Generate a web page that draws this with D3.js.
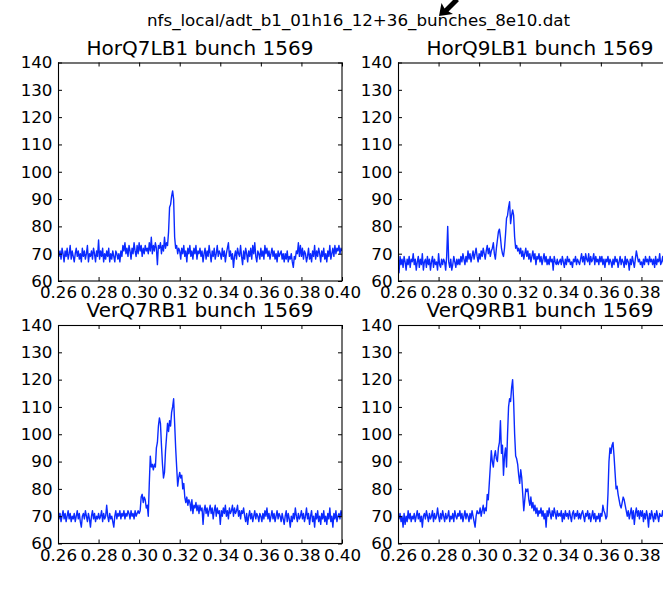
<!DOCTYPE html>
<html>
<head>
<meta charset="utf-8">
<script src="https://cdn.jsdelivr.net/npm/d3@7"></script>
<style>
  html, body { margin: 0; padding: 0; background: #fff; overflow: hidden; }
  svg { display: block; font-family: "DejaVu Sans", sans-serif; }
</style>
</head>
<body>
<svg id="fig" width="663" height="597"></svg>
<script>
// ---- data -------------------------------------------------------------
const fileName = "nfs_local/adt_b1_01h16_12+36_bunches_8e10.dat";
const panelTitles = ["HorQ7LB1 bunch 1569", "HorQ9LB1 bunch 1569",
                     "VerQ7RB1 bunch 1569", "VerQ9RB1 bunch 1569"];
const xTicks = [0.26, 0.28, 0.30, 0.32, 0.34, 0.36, 0.38, 0.40];
const yTicks = [60, 70, 80, 90, 100, 110, 120, 130, 140];

// tune axis: spectra sampled on a regular grid starting at freqStart
const freqStart = 0.26;
const freqStep = 0.0005;

const horQ7LB1 = [
  72,69,71,68,72,70,67,71,69,72,68,70,73,68,71,69,67,70,72,69,
  71,68,70,67,72,69,71,68,70,73,67,70,69,71,68,72,70,67,71,69,
  75,68,71,69,72,67,70,68,71,69,72,67,70,68,71,69,67,71,70,68,
  70,67,71,69,73,71,74,70,72,69,73,71,68,72,70,74,71,69,73,70,
  74,71,73,69,72,70,73,71,72,70,74,71,76,70,73,71,74,72,66,73,
  72,74,70,73,71,76,72,74,73,78,87,88,91,93,90,76,72,73,70,72,
  71,68,72,70,73,69,71,67,72,70,73,69,71,68,72,70,73,68,71,70,
  72,69,71,67,70,72,68,71,69,73,70,67,71,69,72,68,70,73,69,71,
  70,68,72,69,71,67,70,72,74,69,71,68,70,65,69,71,68,72,70,69,
  73,69,66,71,68,72,70,67,71,69,72,68,73,70,74,69,67,71,70,68,
  72,69,71,68,73,70,72,69,71,68,70,72,69,71,68,70,67,71,69,70,
  71,68,70,67,70,68,71,67,69,68,70,67,65,69,68,71,70,74,69,73,
  69,72,68,71,70,67,69,72,68,70,67,71,69,73,68,71,69,72,70,67,
  71,69,72,68,70,67,71,69,73,68,70,72,69,73,70,72,71,73,70,72,
  71
];

const horQ9LB1 = [
  70,63,69,66,68,65,69,67,64,68,66,69,65,68,67,70,66,68,64,67,
  69,65,68,66,70,64,67,68,65,69,66,68,64,67,69,65,68,66,67,64,
  70,66,65,68,66,68,67,64,69,80,67,65,68,64,66,69,67,65,68,66,
  68,66,69,67,70,68,66,69,67,71,68,70,67,69,71,68,70,72,69,67,
  70,68,71,69,72,70,68,71,73,70,72,69,71,72,74,70,68,72,75,78,
  79,76,72,70,69,72,77,83,84,87,89,81,84,86,84,76,72,73,71,72,
  70,72,69,71,68,70,72,69,71,68,70,67,69,71,68,70,66,69,68,70,
  67,69,66,68,70,67,69,66,68,66,69,67,68,64,69,67,66,68,66,67,
  68,66,69,67,65,68,66,69,67,68,66,67,65,68,67,69,66,68,67,66,
  68,70,67,69,66,70,68,67,70,66,69,67,68,70,66,69,67,68,66,69,
  67,69,66,68,65,68,67,69,66,68,67,65,68,66,69,67,68,65,67,69,
  66,68,67,65,69,66,68,67,64,68,66,69,67,65,68,71,69,67,68,66,
  67,65,68,66,69,67,68,66,69,67,68,66,68,65,69,66,68,67,70,66,
  67,69,66,68,67,65,68,66,69,67,68,66,67,69,66,68,67,65,68,67,
  67
];

const verQ7RB1 = [
  73,69,71,68,70,72,69,71,68,70,72,69,71,68,70,69,71,68,70,72,
  69,71,68,66,70,71,69,72,70,68,71,69,66,70,72,69,71,68,70,69,
  71,69,70,72,68,71,69,70,74,70,68,71,69,70,68,66,70,72,69,71,
  70,72,69,71,70,72,69,71,70,72,71,69,72,70,71,69,72,70,71,72,
  71,72,77,78,75,77,76,73,74,70,82,92,88,89,87,89,88,95,97,103,
  106,104,96,89,84,86,94,99,104,101,105,103,108,110,113,104,95,88,81,84,
  86,84,85,80,82,77,75,77,74,76,75,72,76,71,74,73,75,72,74,71,
  74,72,73,67,72,74,71,73,70,72,74,71,73,69,72,74,70,73,71,72,
  67,72,70,73,71,74,70,72,69,73,71,72,74,70,73,71,72,74,70,72,
  69,72,71,73,70,68,71,67,70,72,69,71,68,70,72,69,71,70,68,71,
  70,68,71,69,72,70,73,69,71,68,70,72,69,71,68,70,72,69,71,70,
  68,71,69,67,70,72,68,71,69,66,70,68,71,69,73,70,68,71,69,70,
  72,69,71,68,70,73,69,71,67,70,72,68,70,66,71,69,72,68,70,67,
  71,69,72,68,70,67,71,69,73,68,70,66,71,69,72,68,70,71,69,72,
  70
];

const verQ9RB1 = [
  70,69,71,68,70,66,71,67,70,68,72,69,71,68,70,69,71,68,70,72,
  69,71,68,70,66,70,71,69,72,70,68,71,69,70,72,68,71,69,70,73,
  70,68,71,69,72,70,68,71,69,70,72,68,70,69,71,68,72,70,69,71,
  70,72,69,71,68,70,72,69,71,70,68,71,69,72,70,68,66,70,72,71,
  71,73,70,72,74,71,73,72,78,76,82,88,94,90,88,92,94,91,90,95,
  97,105,93,96,85,92,95,88,100,110,113,112,117,120,112,100,92,91,89,85,
  82,87,84,78,72,76,80,79,80,76,74,77,73,75,72,74,71,73,70,72,
  71,73,70,72,69,71,66,72,70,73,71,69,72,70,73,71,69,72,70,71,
  70,72,68,71,69,72,70,71,69,72,70,68,71,72,69,71,70,72,69,71,
  69,71,72,70,68,71,70,72,69,71,68,70,72,69,71,68,70,69,71,68,
  71,70,74,72,71,69,70,78,90,95,93,96,97,92,86,80,81,78,76,74,
  73,75,77,76,74,72,70,72,69,71,73,69,72,67,71,73,70,72,69,72,
  70,72,68,71,69,72,70,66,71,69,72,70,68,71,69,72,70,68,71,70,
  70,72,69,71,68,70,72,69,71,70,68,71,69,72,70,69,71,68,70,71,
  70
];

const panelSeries = [horQ7LB1, horQ9LB1, verQ7RB1, verQ9RB1];

// ---- layout -----------------------------------------------------------
const svg = d3.select("#fig");
const colX = [58, 398];          // left edge of each plot column
const rowY = [62.5, 325];        // top edge of each plot row
const plotW = 284, plotH = 218.5;
const tickFont = 16.7, titleFont = 20;
const ink = "#000";
const lineColor = "#0a2aff";

svg.append("rect").attr("width", 663).attr("height", 597).attr("fill", "#fff");

// figure title
svg.append("text")
  .attr("x", 358.5).attr("y", 26)
  .attr("text-anchor", "middle")
  .attr("font-size", tickFont)
  .attr("fill", ink)
  .text(fileName);

const x = d3.scaleLinear().domain([0.26, 0.40]).range([0, plotW]);
const y = d3.scaleLinear().domain([60, 140]).range([plotH, 0]);

const defs = svg.append("defs");
defs.append("clipPath").attr("id", "plotClip")
  .append("rect").attr("width", plotW).attr("height", plotH);

const line = d3.line()
  .x((d, i) => x(freqStart + i * freqStep))
  .y(d => y(d));

panelSeries.forEach((series, k) => {
  const col = k % 2, row = Math.floor(k / 2);
  const g = svg.append("g")
    .attr("transform", `translate(${colX[col]},${rowY[row]})`);

  // spectrum trace
  g.append("g").attr("clip-path", "url(#plotClip)")
    .append("path")
    .datum(series)
    .attr("d", line)
    .attr("fill", "none")
    .attr("stroke", lineColor)
    .attr("stroke-width", 1.4)
    .attr("stroke-linejoin", "round");

  // inward ticks on all four sides, labels on bottom and left
  const styleAxis = sel => {
    sel.select(".domain").remove();
    sel.selectAll(".tick line").attr("stroke", ink).attr("stroke-width", 1);
    sel.selectAll(".tick text").attr("fill", ink)
      .attr("font-size", tickFont)
      .attr("font-family", "DejaVu Sans, sans-serif");
  };

  g.append("g").attr("transform", `translate(0,${plotH})`)
    .call(d3.axisBottom(x).tickValues(xTicks).tickFormat(d3.format(".2f"))
      .tickSizeInner(-4).tickSizeOuter(0).tickPadding(5.5))
    .call(styleAxis);
  g.append("g")
    .call(d3.axisTop(x).tickValues(xTicks).tickFormat("")
      .tickSizeInner(-4).tickSizeOuter(0))
    .call(styleAxis);
  g.append("g")
    .call(d3.axisLeft(y).tickValues(yTicks).tickFormat(d3.format("d"))
      .tickSizeInner(-4).tickSizeOuter(0).tickPadding(5.5))
    .call(styleAxis);
  g.append("g").attr("transform", `translate(${plotW},0)`)
    .call(d3.axisRight(y).tickValues(yTicks).tickFormat("")
      .tickSizeInner(-4).tickSizeOuter(0))
    .call(styleAxis);

  // frame
  g.append("rect")
    .attr("x", 0.5).attr("y", 0.5)
    .attr("width", plotW - 0.5).attr("height", plotH - 0.5)
    .attr("fill", "none").attr("stroke", ink).attr("stroke-width", 1.1);

  // subplot title
  g.append("text")
    .attr("x", plotW / 2).attr("y", -8)
    .attr("text-anchor", "middle")
    .attr("font-size", titleFont)
    .attr("fill", ink)
    .text(panelTitles[k]);
});

// annotation arrow poking in from the top edge
svg.append("path")
  .attr("d", "M439,16 L441.5,3 L444.5,8.5 L455,-2 L459,1 L448.5,11.5 L453,14 Z")
  .attr("fill", ink);
</script>
</body>
</html>
